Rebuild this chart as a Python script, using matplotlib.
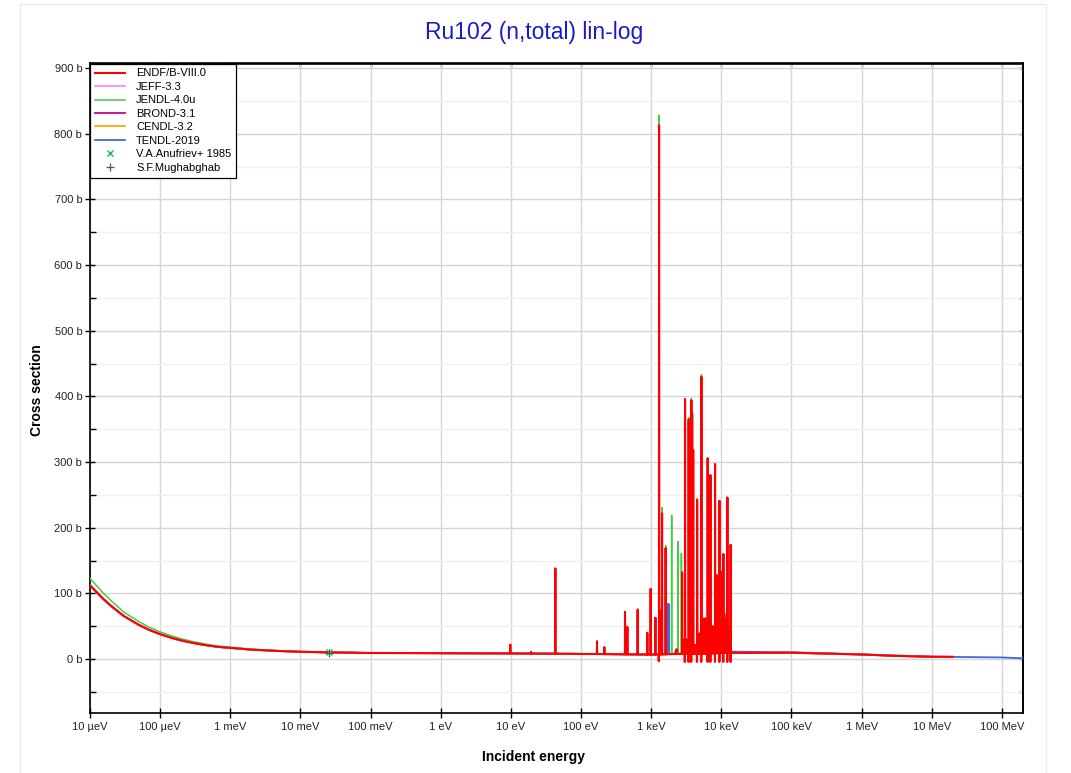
import numpy as np
import matplotlib
matplotlib.use("Agg")
import matplotlib.pyplot as plt
from matplotlib.ticker import FixedLocator, MultipleLocator, FuncFormatter, NullFormatter
from matplotlib.patches import Rectangle

plt.rcParams['font.family'] = ['Liberation Sans', 'DejaVu Sans']

# ---------------- data ----------------
title = "Ru102 (n,total) lin-log"
library_names = ["ENDF/B-VIII.0", "JEFF-3.3", "JENDL-4.0u", "BROND-3.1", "CENDL-3.2", "TENDL-2019"]
library_colors = ["#ff0000", "#ff88ff", "#44cc44", "#cc0088", "#ffaa00", "#4466dd"]

# smooth (background) cross section, energies in eV, values in barn
bg_energy = [1e-5, 1.5e-5, 2e-5, 3e-5, 5e-5, 7e-5, 1e-4, 1.5e-4, 2e-4, 3e-4, 5e-4, 7e-4,
             1e-3, 2e-3, 5e-3, 1e-2, 2.53e-2, 0.1, 1.0, 10.0, 100.0, 1e3, 1.4e4, 1e5,
             1e6, 3e6, 1e7, 2e7]
bg_endf = [112.5, 93.0, 81.0, 66.0, 52.0, 44.5, 38.0, 32.0, 28.5, 24.5, 20.5, 18.5,
           17.2, 14.5, 12.4, 11.2, 10.3, 9.4, 9.0, 8.7, 8.0, 7.0, 9.6, 9.8,
           7.1, 5.0, 3.6, 3.5]
bg_jendl = [123.0, 102.0, 89.0, 72.0, 57.0, 48.5, 41.5, 35.0, 31.0, 26.5, 22.0, 19.8,
            18.3, 15.2, 12.9, 11.8, 10.5, 9.5, 9.0, 8.7, 8.0, 7.0, 9.6, 9.8,
            7.1, 5.0, 3.6, 3.5]

tendl_energy = [1e-5, 1.5e-5, 2e-5, 3e-5, 5e-5, 7e-5, 1e-4, 1.5e-4, 2e-4, 3e-4, 5e-4, 7e-4,
                1e-3, 2e-3, 5e-3, 1e-2, 2.53e-2, 0.1, 1.0, 10.0, 100.0, 1e3, 1.4e4, 1e5,
                1e6, 1e7, 2e7, 1e8, 2e8]
tendl_sigma = [112.5, 93.0, 81.0, 66.0, 52.0, 44.5, 38.0, 32.0, 28.5, 24.5, 20.5, 18.5,
               17.2, 14.5, 12.4, 11.2, 10.3, 9.4, 9.0, 8.7, 8.0, 7.0, 11.5, 10.5,
               7.3, 3.8, 3.4, 2.6, 1.2]

# resonance peaks (energy eV, peak barn)
endf_res_energy = [9.8, 19.4, 43.0, 169.0, 215.0, 424.0, 457.0, 643.0, 880.0, 984.0, 1148.0,
                   1297.0, 1370.0, 1430.0, 1610.0, 2300.0, 2760.0, 2900.0, 3040.0, 3200.0,
                   3430.0, 3600.0, 3740.0, 3840.0, 3970.0, 4200.0, 4520.0, 4850.0, 5200.0,
                   5450.0, 5650.0, 5900.0, 6100.0, 6400.0, 6650.0, 7000.0, 7250.0, 7500.0,
                   7800.0, 8150.0, 8550.0, 8900.0, 9400.0, 9800.0, 10250.0, 10700.0, 11000.0,
                   11300.0, 11700.0, 12200.0, 12800.0, 13200.0, 13600.0]
endf_res_peak = [22.0, 11.0, 138.0, 27.0, 18.0, 72.0, 49.0, 75.0, 40.0, 107.0, 63.0,
                 813.0, 74.0, 222.0, 169.0, 15.0, 132.0, 29.0, 396.0, 30.0,
                 365.0, 30.0, 394.0, 374.0, 318.0, 22.0, 243.0, 39.0, 430.0,
                 62.0, 57.0, 62.0, 35.0, 306.0, 115.0, 280.0, 40.0, 50.0,
                 45.0, 297.0, 128.0, 60.0, 241.0, 130.0, 133.0, 160.0, 70.0,
                 62.0, 55.0, 246.0, 50.0, 40.0, 174.0]
endf_dip_energy = [1285.0, 3020.0, 3410.0, 3720.0, 4500.0, 5170.0, 6370.0, 6980.0, 8120.0,
                   9370.0, 10650.0, 12150.0, 13550.0]
endf_dip_value = [-3.0, -4.0, -4.0, -4.0, -4.0, -4.0, -4.0, -4.0, -4.0, -4.0, -4.0, -4.0, -4.0]

jendl_res_energy = [643.0, 1297.0, 1430.0, 1610.0, 1960.0, 2200.0, 2420.0, 2700.0, 3430.0,
                    3740.0, 5200.0]
jendl_res_peak = [77.0, 828.0, 231.0, 173.0, 219.0, 12.0, 179.0, 161.0, 368.0, 397.0, 433.0]

tendl_res_energy = [1700.0, 1780.0]
tendl_res_peak = [84.0, 84.0]

exp_anufriev_E = [0.0253]
exp_anufriev_sig = [10.2]
exp_mughabghab_E = [0.0253]
exp_mughabghab_sig = [10.0]

x_tick_values = [1e-5, 1e-4, 1e-3, 1e-2, 1e-1, 1e0, 1e1, 1e2, 1e3, 1e4, 1e5, 1e6, 1e7, 1e8]
x_tick_labels = ["10 µeV", "100 µeV", "1 meV", "10 meV", "100 meV", "1 eV", "10 eV",
                 "100 eV", "1 keV", "10 keV", "100 keV", "1 MeV", "10 MeV", "100 MeV"]
y_tick_values = [0, 100, 200, 300, 400, 500, 600, 700, 800, 900]


# ---------------- helpers ----------------
def build_curve(bg_e, bg_s, res_e=(), res_p=(), dip_e=(), dip_v=(), w=0.004):
    bg_e = np.asarray(bg_e, float)
    bg_s = np.asarray(bg_s, float)
    le = np.log10(bg_e)
    pts = list(zip(bg_e, bg_s))
    for e, p in list(zip(res_e, res_p)) + list(zip(dip_e, dip_v)):
        for f in (1 - w, 1 + w):
            ee = e * f
            pts.append((ee, np.interp(np.log10(ee), le, bg_s)))
        pts.append((e, p))
    pts = [q for q in pts if bg_e[0] <= q[0] <= bg_e[-1]]
    pts.sort(key=lambda q: q[0])
    arr = np.array(pts)
    return arr[:, 0], arr[:, 1]


# ---------------- figure ----------------
fig = plt.figure(figsize=(10.71, 7.73), dpi=100)
fig.patches.append(Rectangle((20 / 1071, -0.01), (1046 - 20) / 1071, 0.9948 + 0.01,
                             transform=fig.transFigure, fill=False,
                             edgecolor="#ebebeb", linewidth=1.0, zorder=0))

ax = fig.add_axes([90 / 1071, 1 - 713 / 773, (1023 - 90) / 1071, (713 - 63.5) / 773])
ax.set_xscale("log")
ax.set_xlim(1e-5, 2e8)
ax.set_ylim(-82, 907)

# curves
e_endf, s_endf = build_curve(bg_energy, bg_endf, endf_res_energy, endf_res_peak,
                             endf_dip_energy, endf_dip_value)
e_jendl, s_jendl = build_curve(bg_energy, bg_jendl, jendl_res_energy, jendl_res_peak)
e_tendl, s_tendl = build_curve(tendl_energy, tendl_sigma, tendl_res_energy, tendl_res_peak)

lines = {}
lines["TENDL-2019"] = ax.plot(e_tendl, s_tendl, color=library_colors[5], lw=1.3, zorder=3)[0]
lines["CENDL-3.2"] = ax.plot(e_endf, s_endf, color=library_colors[4], lw=1.3, zorder=4)[0]
lines["BROND-3.1"] = ax.plot(e_endf, s_endf, color=library_colors[3], lw=1.3, zorder=5)[0]
lines["JEFF-3.3"] = ax.plot(e_endf, s_endf, color=library_colors[1], lw=1.3, zorder=6)[0]
lines["JENDL-4.0u"] = ax.plot(e_jendl, s_jendl, color=library_colors[2], lw=1.1, zorder=7)[0]
lines["ENDF/B-VIII.0"] = ax.plot(e_endf, s_endf, color=library_colors[0], lw=1.5, zorder=8)[0]

h_anu = ax.plot(exp_anufriev_E, exp_anufriev_sig, linestyle="none", marker="x",
                color="#22bb55", markersize=5, mew=1.0, zorder=9)[0]
h_mug = ax.plot(exp_mughabghab_E, exp_mughabghab_sig, linestyle="none", marker="+",
                color="#555555", markersize=6, mew=0.9, zorder=9)[0]

# grid
ax.xaxis.set_major_locator(FixedLocator(x_tick_values))
ax.xaxis.set_minor_locator(FixedLocator([]))
ax.set_xticklabels(x_tick_labels)
ax.yaxis.set_major_locator(FixedLocator(y_tick_values))
ax.yaxis.set_minor_locator(MultipleLocator(50))
ax.yaxis.set_major_formatter(FuncFormatter(lambda v, p: f"{int(v)} b"))
ax.yaxis.set_minor_formatter(NullFormatter())
ax.grid(True, which="major", color="#d6d6d6", lw=1.0, zorder=0)
ax.grid(True, which="minor", axis="y", color="#f0f0f0", lw=1.0, zorder=0)
ax.set_axisbelow(True)

for s in ax.spines.values():
    s.set_color("black")
    s.set_linewidth(1.2)

ax.tick_params(axis="both", which="major", direction="inout", length=7, width=1.0,
               labelsize=8, colors="black", labelcolor="#222222", top=False, right=False)
ax.tick_params(axis="y", which="minor", direction="in", length=4, width=1.0, right=False)
ax.tick_params(axis="x", which="major", pad=3)
ax.tick_params(axis="y", which="major", pad=2)

# inward mirror ticks on top and right
secx = ax.secondary_xaxis("top")
secx.set_xscale("log")
secx.xaxis.set_major_locator(FixedLocator(x_tick_values))
secx.xaxis.set_minor_locator(FixedLocator([]))
secx.tick_params(which="major", direction="in", length=3, width=1.0, labeltop=False)
secx.spines["top"].set_linewidth(1.2)
secy = ax.secondary_yaxis("right")
secy.yaxis.set_major_locator(FixedLocator(y_tick_values))
secy.yaxis.set_minor_locator(MultipleLocator(50))
secy.tick_params(which="both", direction="in", length=3, width=1.0, labelright=False)
secy.spines["right"].set_linewidth(1.2)

# legend
handles = [lines[n] for n in library_names] + [h_anu, h_mug]
labels = library_names + ["V.A.Anufriev+ 1985", "S.F.Mughabghab"]
leg = ax.legend(handles, labels, loc="upper left", bbox_to_anchor=(0, 1), borderaxespad=0,
                fontsize=8, frameon=True, fancybox=False, edgecolor="black",
                framealpha=1, handlelength=2.7, handletextpad=1.0, labelspacing=0.31,
                borderpad=0.45)
leg.get_frame().set_linewidth(0.9)
leg.set_zorder(20)

# text
fig.text(534 / 1071, 1 - 33 / 773, title, color="#1a1acc", fontsize=16.5,
         ha="center", va="center")
fig.text(533 / 1071, 1 - 757 / 773, "Incident energy", fontsize=10, fontweight="bold",
         ha="center", va="center")
fig.text(37 / 1071, 1 - 390 / 773, "Cross section", fontsize=10, fontweight="bold",
         ha="center", va="center", rotation=90)

fig.savefig("out.png", dpi=100)
